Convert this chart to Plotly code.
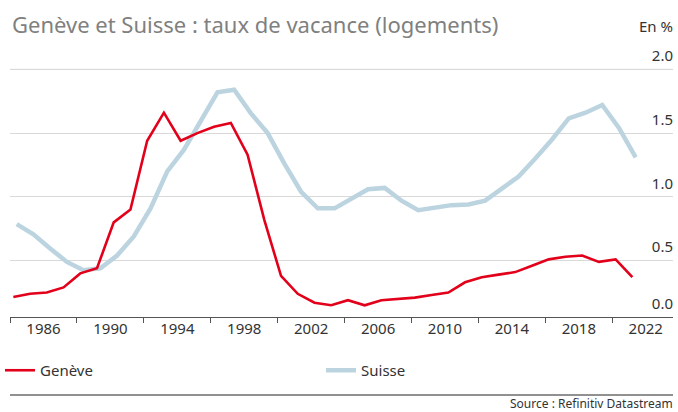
import plotly.graph_objects as go

# ---- data ----
years = list(range(1984, 2022))
geneve = [0.215, 0.24, 0.25, 0.29, 0.40, 0.44, 0.80, 0.90, 1.44, 1.66,
          1.44, 1.50, 1.55, 1.58, 1.33, 0.82, 0.38, 0.24, 0.17, 0.15,
          0.19, 0.15, 0.19, 0.20, 0.21, 0.23, 0.25, 0.33, 0.37, 0.39,
          0.41, 0.46, 0.51, 0.53, 0.54, 0.49, 0.51, 0.37]
suisse = [0.786, 0.707, 0.595, 0.49, 0.425, 0.44, 0.54, 0.69, 0.91, 1.20,
          1.37, 1.60, 1.82, 1.84, 1.655, 1.50, 1.26, 1.04, 0.91, 0.91,
          0.99, 1.06, 1.07, 0.97, 0.895, 0.915, 0.935, 0.94, 0.97, 1.065,
          1.16, 1.30, 1.45, 1.615, 1.66, 1.72, 1.54, 1.31]
x_labels = ["1986", "1990", "1994", "1998", "2002", "2006", "2010", "2014", "2018", "2022"]
y_labels = ["0.0", "0.5", "1.0", "1.5", "2.0"]

# ---- layout constants ----
FONT = "Noto Sans"
RED = "#e2001a"
BLUE = "#bcd4e0"
X0, X1 = 1984.0, 2023.63
PX_PER_UNIT = 127.4
TOP, BOTTOM = 45, 317          # plot area in pixels
Y0 = 0.058
Y1 = 2.0 + (69.3 - TOP) / PX_PER_UNIT
PH = BOTTOM - TOP
geneve_shift = 0.2    # position of the observation within the year
suisse_shift = 0.4

gx = [y + geneve_shift for y in years]
sx = [y + suisse_shift for y in years]


def py(pix):
    """pixel row -> paper y"""
    return (BOTTOM - pix) / PH


fig = go.Figure()
fig.add_trace(go.Scatter(x=sx, y=suisse, mode="lines", name="Suisse",
                         line=dict(color=BLUE, width=4.5), legendrank=2))
fig.add_trace(go.Scatter(x=gx, y=geneve, mode="lines", name="Genève",
                         line=dict(color=RED, width=2.6), legendrank=1))

tick_pos = [X0 + 4 * k for k in range(10)] + [X1]
label_pos = [float(t) for t in x_labels]
y_vals = [Y0] + [float(v) for v in y_labels[1:]]

fig.update_layout(
    width=678, height=412,
    margin=dict(l=10, r=5, t=TOP, b=412 - BOTTOM, autoexpand=False),
    paper_bgcolor="white", plot_bgcolor="white",
    font=dict(family=FONT, size=14, color="#333333"),
    showlegend=True,
    legend=dict(orientation="h", xref="container", yref="container",
                x=0.0, y=1 - 354 / 412, xanchor="left", yanchor="top",
                font=dict(size=15, color="#333333"),
                entrywidthmode="pixels", entrywidth=276,
                traceorder="normal", itemwidth=30),
    xaxis=dict(range=[X0, X1], showgrid=False, zeroline=False,
               showline=True, linecolor="#555555", linewidth=1,
               tickmode="array", tickvals=tick_pos, ticks="outside",
               ticklen=5, tickcolor="#555555", showticklabels=False,
               fixedrange=True),
    xaxis2=dict(range=[X0, X1], overlaying="x", anchor="y", side="bottom",
                showgrid=False, zeroline=False, showline=False,
                tickmode="array", tickvals=label_pos, ticktext=x_labels,
                ticks="", ticklabelstandoff=1,
                tickfont=dict(size=15, color="#333333")),
    yaxis=dict(range=[Y0, Y1], side="right", showline=False, zeroline=False,
               showgrid=True, gridcolor="#d9d9d9", gridwidth=1,
               tickmode="array", tickvals=y_vals, ticktext=y_labels,
               ticks="", ticklabelposition="inside top",
               ticklabelstandoff=-3, ticklabelshift=-3,
               tickfont=dict(size=15, color="#333333")),
    annotations=[
        dict(text="Genève et Suisse : taux de vacance (logements)",
             xref="paper", yref="paper", x=(10 - 10) / 663, y=py(24),
             xanchor="left", yanchor="middle", showarrow=False,
             font=dict(size=22, color="#808080")),
        dict(text="En %", xref="paper", yref="paper", x=(675 - 10) / 663,
             y=py(26), xanchor="right", yanchor="middle",
             showarrow=False, font=dict(size=15, color="#333333")),
        dict(text="Source : Refinitiv Datastream", xref="paper", yref="paper",
             x=(675 - 10) / 663, y=py(403), xanchor="right",
             yanchor="middle", showarrow=False,
             font=dict(size=12, color="#333333")),
    ],
    shapes=[dict(type="line", xref="paper", yref="paper", x0=0, x1=1,
                 y0=py(395), y1=py(395),
                 line=dict(color="#222222", width=1)),
            dict(type="line", xref="paper", yref="y", x0=0, x1=1,
                 y0=2.0, y1=2.0, layer="below",
                 line=dict(color="#d9d9d9", width=1))],
)
fig.add_trace(go.Scatter(x=[None], y=[None], xaxis="x2", showlegend=False))

fig.write_html("out.html", config={"displayModeBar": False},
               post_script="document.body.style.margin='0';")
